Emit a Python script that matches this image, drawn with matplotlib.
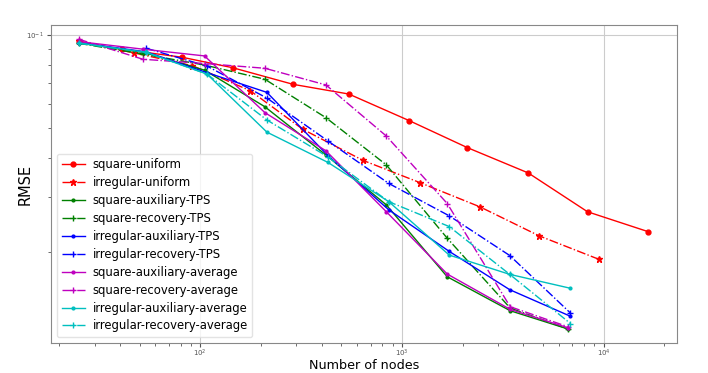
import matplotlib
matplotlib.use("Agg")
import matplotlib.pyplot as plt

# ---- data ----
x_square_uniform = [25, 41, 81, 145, 289, 545, 1089, 2113, 4225, 8321, 16641]
y_square_uniform = [0.0949, 0.0899, 0.0848, 0.0784, 0.0693, 0.0645, 0.0529, 0.0433, 0.0359, 0.0269, 0.0232]

x_irregular_uniform = [25, 47, 91.5, 177, 323, 641, 1228, 2437, 4786, 9470]
y_irregular_uniform = [0.0956, 0.0875, 0.0796, 0.0661, 0.0496, 0.0394, 0.0334, 0.0279, 0.0225, 0.0189]

x_square = [25, 52, 105, 209, 420, 837, 1677, 3440, 6630]
x_irregular = [25, 54, 108, 214, 430, 860, 1716, 3422, 6843]

y_sq_aux_tps = [0.0942, 0.0880, 0.0770, 0.0587, 0.0410, 0.0283, 0.0166, 0.0129, 0.01127]
y_sq_rec_tps = [0.0940, 0.0868, 0.0800, 0.0720, 0.0541, 0.0381, 0.0221, 0.01316, 0.01127]
y_ir_aux_tps = [0.0945, 0.0882, 0.0756, 0.0653, 0.0408, 0.0273, 0.02004, 0.01508, 0.01238]
y_ir_rec_tps = [0.0906, 0.0794, 0.0626, 0.0455, 0.0332, 0.0261, 0.01944, 0.01268]
y_sq_aux_avg = [0.0952, 0.0900, 0.0856, 0.0562, 0.0423, 0.0269, 0.01694, 0.01303, 0.01137]
y_sq_rec_avg = [0.0969, 0.0835, 0.0809, 0.0781, 0.0690, 0.0472, 0.0286, 0.01329, 0.01146]
y_ir_aux_avg = [0.0942, 0.0879, 0.0748, 0.0486, 0.0388, 0.0290, 0.0195, 0.0169, 0.01524]
y_ir_rec_avg = [0.0940, 0.0879, 0.0748, 0.0532, 0.0404, 0.0290, 0.0241, 0.0169, 0.01173]

labels = ["square-uniform", "irregular-uniform",
          "square-auxiliary-TPS", "square-recovery-TPS",
          "irregular-auxiliary-TPS", "irregular-recovery-TPS",
          "square-auxiliary-average", "square-recovery-average",
          "irregular-auxiliary-average", "irregular-recovery-average"]

fig = plt.figure(figsize=(7.08, 3.73), dpi=100)
ax = fig.add_axes([51/708, 1-343/373, (677-51)/708, (343-25)/373])

lw = 1.0
ax.plot(x_square_uniform, y_square_uniform, '-', color='red', marker='o', ms=3.5, lw=lw, label=labels[0])
ax.plot(x_irregular_uniform, y_irregular_uniform, '-.', color='red', marker='*', ms=4.5, lw=lw, label=labels[1])
ax.plot(x_square, y_sq_aux_tps, '-', color='green', marker='.', ms=4, lw=lw, label=labels[2])
ax.plot(x_square, y_sq_rec_tps, '-.', color='green', marker='+', ms=4, lw=lw, label=labels[3])
ax.plot(x_irregular, y_ir_aux_tps, '-', color='blue', marker='.', ms=4, lw=lw, label=labels[4])
ax.plot(x_irregular[1:], y_ir_rec_tps, '-.', color='blue', marker='+', ms=4, lw=lw, label=labels[5])
ax.plot(x_square, y_sq_aux_avg, '-', color='m', marker='.', ms=4, lw=lw, label=labels[6])
ax.plot(x_square, y_sq_rec_avg, '-.', color='m', marker='+', ms=4, lw=lw, label=labels[7])
ax.plot(x_irregular, y_ir_aux_avg, '-', color='c', marker='.', ms=4, lw=lw, label=labels[8])
ax.plot(x_irregular, y_ir_rec_avg, '-.', color='c', marker='+', ms=4, lw=lw, label=labels[9])

ax.set_xscale('log')
ax.set_yscale('log')
ax.set_xlim(18.2, 23100)
ax.set_ylim(0.01015, 0.1077)
ax.grid(True, which='major', color='#cccccc', lw=0.8)
ax.tick_params(which='both', labelsize=5, colors='#555555', length=2, pad=2)
ax.tick_params(axis='x', which='both', pad=0.5)
ax.tick_params(which='major', length=3)
for s in ax.spines.values():
    s.set_color('#888888')

ax.set_xlabel("Number of nodes", fontsize=9.2)
ax.xaxis.set_label_coords(0.5, -0.05)
ax.set_ylabel("RMSE", fontsize=10.5)
ax.yaxis.set_label_coords(-0.03, 0.5)

ax.legend(loc='lower left', fontsize=8.4, labelspacing=0.42, handlelength=2.0,
          handletextpad=0.65, borderpad=0.4, borderaxespad=0.5,
          framealpha=0.8, edgecolor='#dddddd')

fig.savefig("out.png", dpi=100)
